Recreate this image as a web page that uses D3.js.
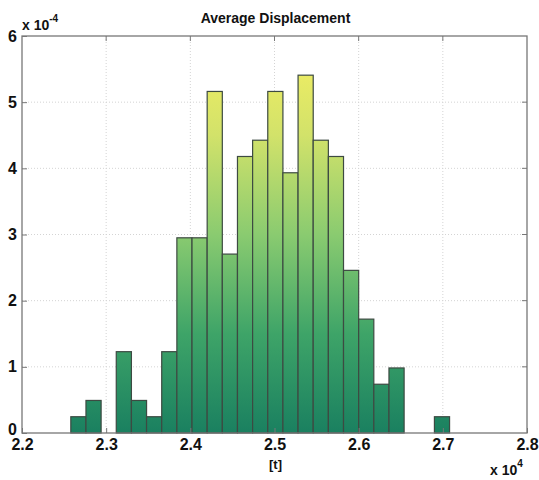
<!DOCTYPE html>
<html>
<head>
<meta charset="utf-8">
<script src="https://cdn.jsdelivr.net/npm/d3@7"></script>
<style>
  body { margin: 0; background: #fff; }
  text { font-family: "Liberation Sans", Arial, sans-serif; font-weight: bold; fill: #111; }
</style>
</head>
<body>
<div id="chart"></div>
<script>
var width = 539;
var height = 480;

// histogram bins (start of first bin, bin width), heights in units of 1e-4
var binStart = 22580;
var binWidth = 180;
var density = [0.246, 0.492, 0, 1.229, 0.492, 0.246, 1.229, 2.950, 2.950, 5.162,
               2.704, 4.179, 4.425, 5.162, 3.933, 5.408, 4.425, 4.179, 2.458, 1.721,
               0.737, 0.983, 0, 0, 0.246];
var xTicks = [22000, 23000, 24000, 25000, 26000, 27000, 28000];
var yTicks = [0, 1, 2, 3, 4, 5, 6];

var margin = { left: 22, right: 12, top: 36, bottom: 47 };

var svg = d3.select("#chart").append("svg")
  .attr("width", width)
  .attr("height", height);

var x = d3.scaleLinear()
  .domain([22000, 28000])
  .range([margin.left, width - margin.right]);

var y = d3.scaleLinear()
  .domain([0, 6])
  .range([height - margin.bottom, margin.top]);

// colour by height, same gradient across the whole plot
var grad = svg.append("defs").append("linearGradient")
  .attr("id", "barGrad")
  .attr("gradientUnits", "userSpaceOnUse")
  .attr("x1", 0).attr("x2", 0)
  .attr("y1", y(0)).attr("y2", y(6));
grad.append("stop").attr("offset", "0%").attr("stop-color", "#1a8060");
grad.append("stop").attr("offset", "25%").attr("stop-color", "#3ea468");
grad.append("stop").attr("offset", "50%").attr("stop-color", "#8acb70");
grad.append("stop").attr("offset", "75%").attr("stop-color", "#d2e26a");
grad.append("stop").attr("offset", "92%").attr("stop-color", "#ecec64");
grad.append("stop").attr("offset", "100%").attr("stop-color", "#f2ee66");

// grid
svg.append("g").selectAll("line")
  .data(xTicks.slice(1, -1))
  .enter().append("line")
  .attr("x1", function(d) { return x(d); })
  .attr("x2", function(d) { return x(d); })
  .attr("y1", y(0)).attr("y2", y(6))
  .attr("stroke", "#d4d4d4")
  .attr("stroke-width", 1)
  .attr("stroke-dasharray", "1 2");

svg.append("g").selectAll("line")
  .data(yTicks.slice(1, -1))
  .enter().append("line")
  .attr("x1", x(22000)).attr("x2", x(28000))
  .attr("y1", function(d) { return y(d); })
  .attr("y2", function(d) { return y(d); })
  .attr("stroke", "#d4d4d4")
  .attr("stroke-width", 1)
  .attr("stroke-dasharray", "1 2");

// bars
var bins = density.map(function(d, i) { return { v: d, i: i }; })
  .filter(function(d) { return d.v > 0; });

svg.append("g").selectAll("rect")
  .data(bins)
  .enter().append("rect")
  .attr("x", function(d) { return x(binStart + d.i * binWidth); })
  .attr("width", function(d) { return x(binStart + (d.i + 1) * binWidth) - x(binStart + d.i * binWidth); })
  .attr("y", function(d) { return y(d.v); })
  .attr("height", function(d) { return y(0) - y(d.v); })
  .attr("fill", "url(#barGrad)")
  .attr("stroke", "#3d4a42")
  .attr("stroke-width", 1.2);

// frame
svg.append("rect")
  .attr("x", x(22000)).attr("y", y(6))
  .attr("width", x(28000) - x(22000))
  .attr("height", y(0) - y(6))
  .attr("fill", "none")
  .attr("stroke", "#777")
  .attr("stroke-width", 1.3);

// axes ticks
var xAxis = svg.append("g")
  .attr("transform", "translate(0," + y(0) + ")")
  .call(d3.axisBottom(x).tickValues(xTicks).tickSize(-5)
    .tickFormat(function(d) { return d3.format(".1f")(d / 10000); }));
xAxis.select(".domain").remove();
xAxis.selectAll(".tick line").attr("stroke", "#777");
xAxis.selectAll(".tick text")
  .attr("y", 6)
  .attr("dy", "0.71em")
  .style("font-size", "16px")
  .style("font-family", "Liberation Sans, Arial, sans-serif")
  .style("font-weight", "bold")
  .attr("fill", "#111");

var yAxis = svg.append("g")
  .attr("transform", "translate(" + x(22000) + ",0)")
  .call(d3.axisLeft(y).tickValues(yTicks).tickSize(-5).tickFormat(d3.format("d")));
yAxis.select(".domain").remove();
yAxis.selectAll(".tick line").attr("stroke", "#777");
yAxis.selectAll(".tick text")
  .attr("x", -5)
  .attr("dy", function(d) { return d === 0 ? "0.1em" : "0.32em"; })
  .style("font-size", "16px")
  .style("font-family", "Liberation Sans, Arial, sans-serif")
  .style("font-weight", "bold")
  .attr("fill", "#111");

// right / top tick marks
svg.append("g").selectAll("line")
  .data(yTicks.slice(1, -1))
  .enter().append("line")
  .attr("x1", x(28000) - 5).attr("x2", x(28000))
  .attr("y1", function(d) { return y(d); })
  .attr("y2", function(d) { return y(d); })
  .attr("stroke", "#777");
svg.append("g").selectAll("line")
  .data(xTicks.slice(1, -1))
  .enter().append("line")
  .attr("x1", function(d) { return x(d); })
  .attr("x2", function(d) { return x(d); })
  .attr("y1", y(6)).attr("y2", y(6) + 5)
  .attr("stroke", "#777");

// title and labels
svg.append("text")
  .attr("x", (x(22000) + x(28000)) / 2 + 1)
  .attr("y", 23)
  .attr("text-anchor", "middle")
  .style("font-size", "14px")
  .text("Average Displacement");

svg.append("text")
  .attr("x", (x(22000) + x(28000)) / 2 + 1)
  .attr("y", 469)
  .attr("text-anchor", "middle")
  .style("font-size", "13px")
  .text("[t]");

var ex1 = svg.append("text")
  .attr("x", 22)
  .attr("y", 30)
  .style("font-size", "14px");
ex1.append("tspan").text("x 10");
ex1.append("tspan").attr("dy", -8).style("font-size", "10px").text("-4");

var ex2 = svg.append("text")
  .attr("x", 490)
  .attr("y", 475)
  .style("font-size", "14px");
ex2.append("tspan").text("x 10");
ex2.append("tspan").attr("dy", -8).style("font-size", "10px").text("4");
</script>
</body>
</html>
